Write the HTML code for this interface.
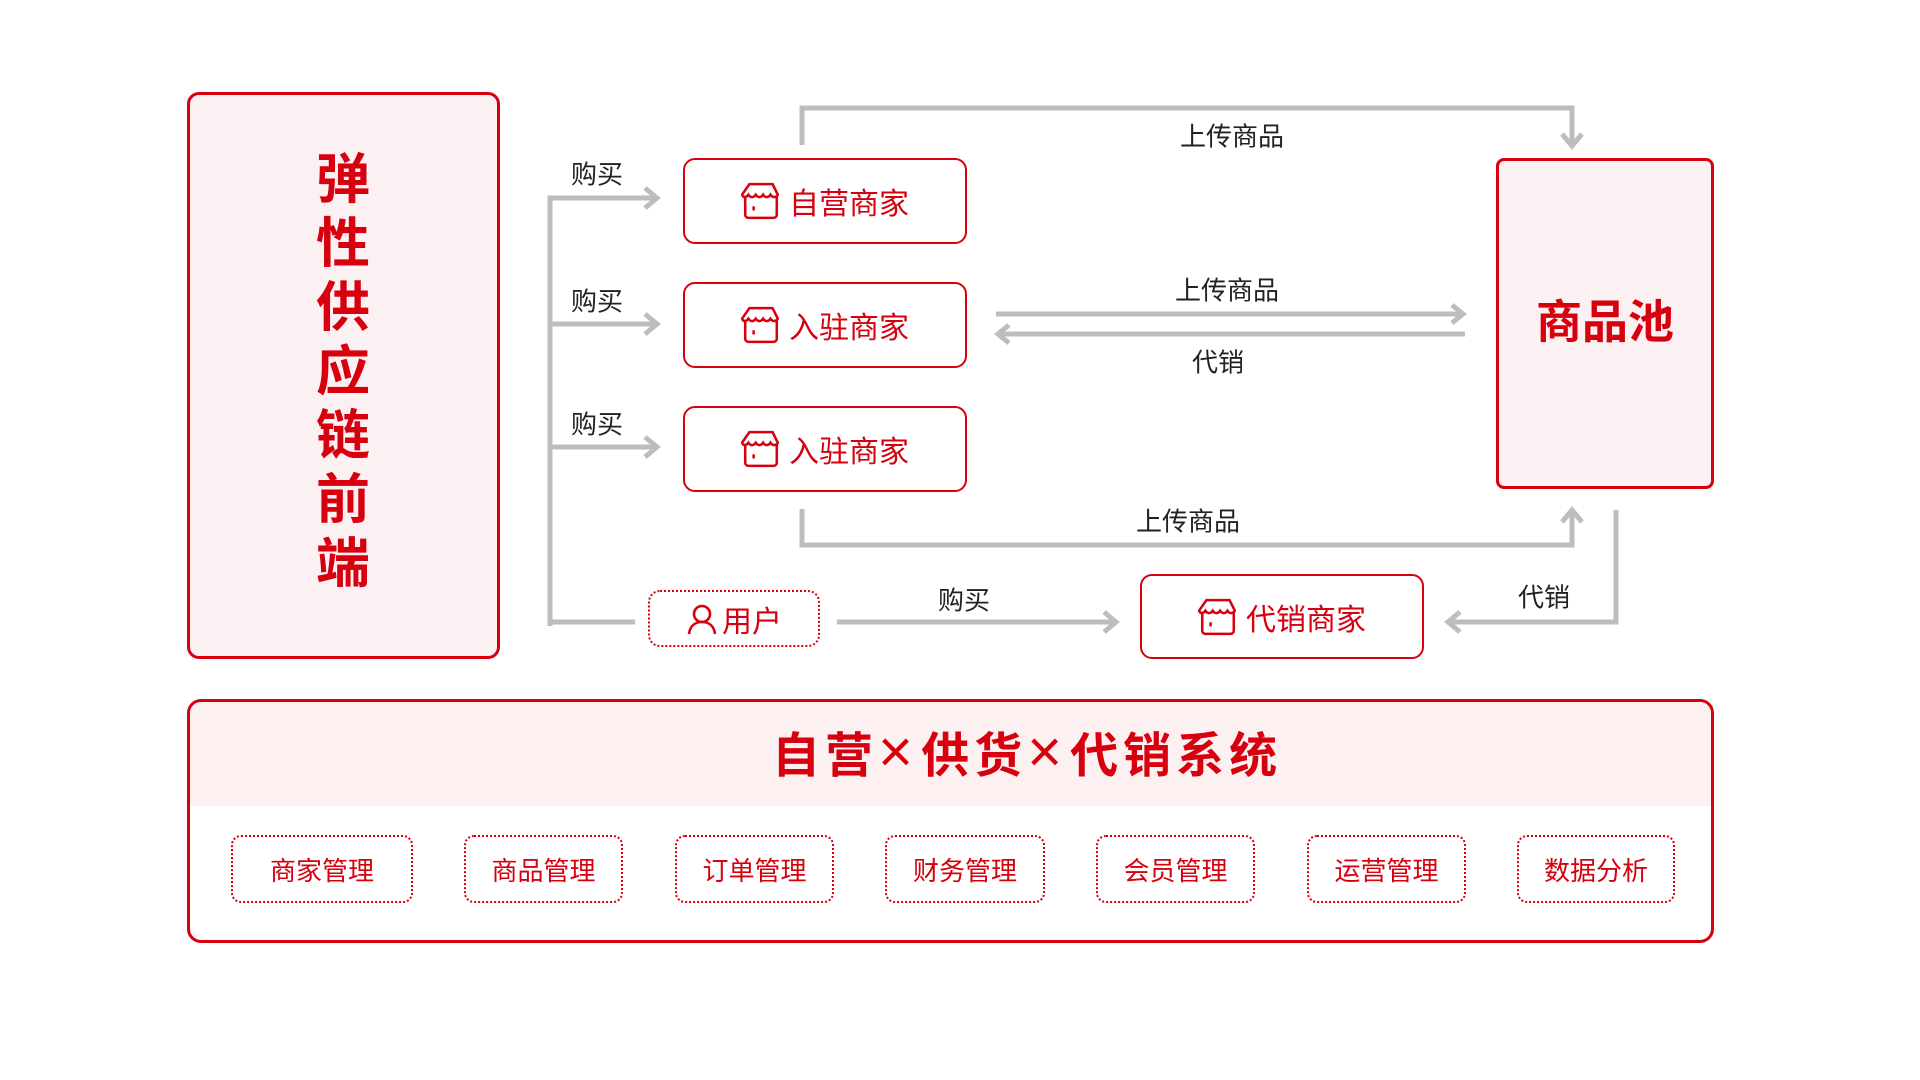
<!DOCTYPE html>
<html><head><meta charset="utf-8"><style>
body{margin:0;width:1920px;height:1080px;background:#fff;position:relative;overflow:hidden;font-family:"Liberation Sans","Noto Sans CJK SC",sans-serif;}
.a{position:absolute;box-sizing:border-box;}
.box{border:2px solid #d7000f;border-radius:12px;background:#fff;color:#d7000f;font-size:30px;display:flex;align-items:center;justify-content:center;}
.lbl{position:absolute;font-size:26px;color:#222;transform:translate(-50%,-50%);white-space:nowrap;}
.sub{border:2px dotted #d7000f;border-radius:10px;color:#d7000f;font-size:26px;display:flex;align-items:center;justify-content:center;top:835px;height:68px;}
svg.ic{margin-right:8px}
</style></head><body>
<div class="a" style="left:187px;top:92px;width:313px;height:567px;border:3px solid #d7000f;border-radius:12px;background:#fcf1f2;"></div>
<div class="a" style="left:313px;top:148px;width:60px;color:#d7000f;font-weight:bold;font-size:54px;line-height:64px;text-align:center;">弹性供应链前端</div>

<div class="a" style="left:1496px;top:158px;width:218px;height:331px;border:3px solid #d7000f;border-radius:8px;background:#fcf1f2;color:#d7000f;font-weight:bold;font-size:46px;display:flex;align-items:center;justify-content:center;padding-bottom:10px;">商品池</div>

<svg class="a" style="left:0;top:0" width="1920" height="1080">
<g fill="none" stroke="#bdbdbd" stroke-width="5">
<path d="M802 145V108H1572V145"/><path d="M1562 134l10 12 10-12"/>
<path d="M996 314H1463"/><path d="M1452 305l11 9-11 9"/>
<path d="M998 334H1465"/><path d="M1009 325l-11 9 11 9"/>
<path d="M802 509V545H1572V510"/><path d="M1562 522l10-12 10 12"/>
<path d="M550 626V198H657"/><path d="M550 324H657"/><path d="M550 447H657"/><path d="M550 622H635"/>
<path d="M645 188l12 10-12 10"/><path d="M645 314l12 10-12 10"/><path d="M645 437l12 10-12 10"/>
<path d="M837 622H1116"/><path d="M1104 612l12 10-12 10"/>
<path d="M1616 510V622H1448"/><path d="M1460 612l-12 10 12 10"/>
</g></svg>

<div class="lbl" style="left:1232px;top:135px">上传商品</div>
<div class="lbl" style="left:1227px;top:289px">上传商品</div>
<div class="lbl" style="left:1218px;top:361px">代销</div>
<div class="lbl" style="left:1188px;top:520px">上传商品</div>
<div class="lbl" style="left:597px;top:173px">购买</div>
<div class="lbl" style="left:597px;top:300px">购买</div>
<div class="lbl" style="left:597px;top:423px">购买</div>
<div class="lbl" style="left:964px;top:599px">购买</div>
<div class="lbl" style="left:1544px;top:596px">代销</div>

<div class="a box" style="left:683px;top:158px;width:284px;height:86px;"><svg class="ic" width="40" height="40" viewBox="0 0 38 38" fill="none" stroke="#d7000f" stroke-width="2.4"><path d="M8 3h22l5 10c-2 3-5 3-7 0-2 3-5 3-7 0-2 3-5 3-7 0-2 3-5 3-7 0-2 3-5 3-6 0z"/><path d="M4 14v18a3 3 0 0 0 3 3h24a3 3 0 0 0 3-3V14"/><path d="M12 24v4"/></svg>自营商家</div>
<div class="a box" style="left:683px;top:282px;width:284px;height:86px;"><svg class="ic" width="40" height="40" viewBox="0 0 38 38" fill="none" stroke="#d7000f" stroke-width="2.4"><path d="M8 3h22l5 10c-2 3-5 3-7 0-2 3-5 3-7 0-2 3-5 3-7 0-2 3-5 3-7 0-2 3-5 3-6 0z"/><path d="M4 14v18a3 3 0 0 0 3 3h24a3 3 0 0 0 3-3V14"/><path d="M12 24v4"/></svg>入驻商家</div>
<div class="a box" style="left:683px;top:406px;width:284px;height:86px;"><svg class="ic" width="40" height="40" viewBox="0 0 38 38" fill="none" stroke="#d7000f" stroke-width="2.4"><path d="M8 3h22l5 10c-2 3-5 3-7 0-2 3-5 3-7 0-2 3-5 3-7 0-2 3-5 3-7 0-2 3-5 3-6 0z"/><path d="M4 14v18a3 3 0 0 0 3 3h24a3 3 0 0 0 3-3V14"/><path d="M12 24v4"/></svg>入驻商家</div>
<div class="a box" style="left:1140px;top:574px;width:284px;height:85px;"><svg class="ic" width="40" height="40" viewBox="0 0 38 38" fill="none" stroke="#d7000f" stroke-width="2.4"><path d="M8 3h22l5 10c-2 3-5 3-7 0-2 3-5 3-7 0-2 3-5 3-7 0-2 3-5 3-7 0-2 3-5 3-6 0z"/><path d="M4 14v18a3 3 0 0 0 3 3h24a3 3 0 0 0 3-3V14"/><path d="M12 24v4"/></svg>代销商家</div>
<div class="a box" style="left:648px;top:590px;width:172px;height:57px;border-style:dotted;border-width:2px;"><svg class="ic" style="margin-right:4px" width="32" height="32" viewBox="0 0 32 32" fill="none" stroke="#d7000f" stroke-width="2.6"><circle cx="16" cy="11" r="8"/><path d="M3 31c1-8 6-12 13-12s12 4 13 12"/></svg>用户</div>

<div class="a" style="left:187px;top:699px;width:1527px;height:244px;border:3px solid #d7000f;border-radius:14px;overflow:hidden;background:#fff;">
<div style="height:104px;background:#fcf0f1;"></div>
</div>
<div class="a" style="left:772px;top:722px;width:520px;height:60px;color:#d7000f;font-weight:bold;font-size:48px;line-height:60px;white-space:nowrap;letter-spacing:5px;">自营<span style="font-weight:normal;font-size:60px;letter-spacing:8px">×</span>供货<span style="font-weight:normal;font-size:60px;letter-spacing:8px">×</span>代销系统</div>
<div class="a sub" style="left:231px;width:182px;">商家管理</div>
<div class="a sub" style="left:464px;width:159px;">商品管理</div>
<div class="a sub" style="left:675px;width:159px;">订单管理</div>
<div class="a sub" style="left:885px;width:160px;">财务管理</div>
<div class="a sub" style="left:1096px;width:159px;">会员管理</div>
<div class="a sub" style="left:1307px;width:159px;">运营管理</div>
<div class="a sub" style="left:1517px;width:158px;">数据分析</div>
</body></html>
